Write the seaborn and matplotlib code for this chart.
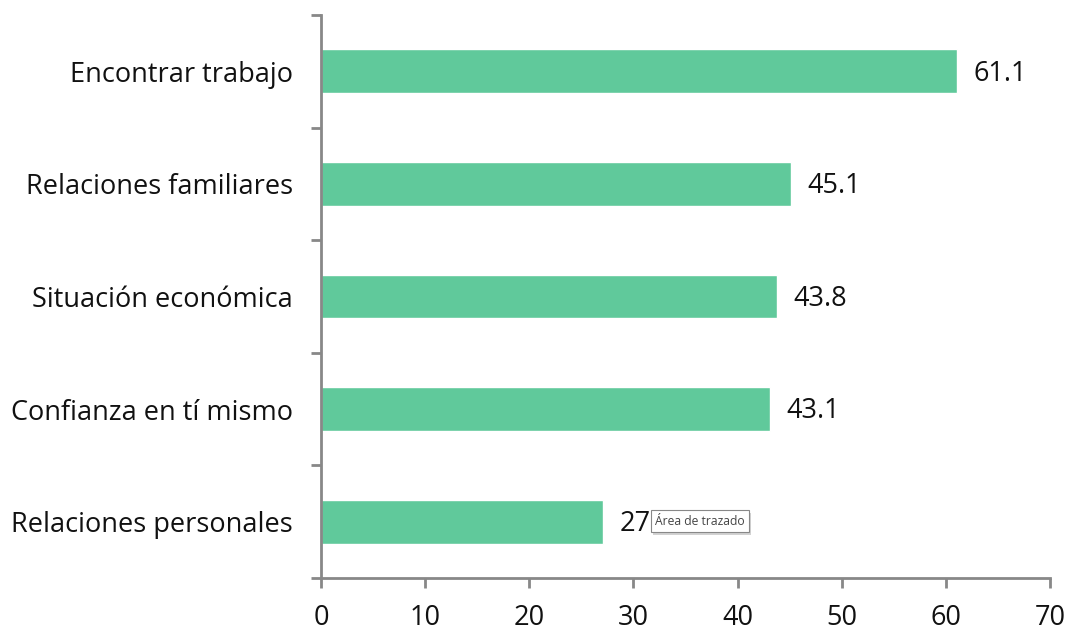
import matplotlib
matplotlib.use("Agg")
import matplotlib.pyplot as plt
import matplotlib.patheffects as pe
import seaborn as sns
import pandas as pd
import numpy as np

categories = ["Encontrar trabajo", "Relaciones familiares", "Situación económica",
              "Confianza en tí mismo", "Relaciones personales"]
values = [61.1, 45.1, 43.8, 43.1, 27.1]
xticks = [0, 10, 20, 30, 40, 50, 60, 70]

sns.set_theme(style="white")
plt.rcParams['font.family'] = ['Open Sans', 'DejaVu Sans']

FS = 19.5
df = pd.DataFrame({"cat": categories, "val": values})
fig = plt.figure(figsize=(10.69, 6.33), dpi=100)
ax = fig.add_axes([321/1069, 1-578/633, (1050-321)/1069, (578-15)/633])
sns.barplot(data=df, y="cat", x="val", color="#60C99B", saturation=1, width=0.39, ax=ax, orient="h")

ax.set_xlim(0, 70)
ax.set_ylim(4.5, -0.5)
ax.set_xticks(xticks)
ax.set_xticklabels([str(t) for t in xticks], fontsize=FS, color="#111111")
ax.set_xlabel("")
ax.set_ylabel("")
ax.tick_params(axis="y", which="major", length=0, labelsize=FS, labelcolor="#111111", pad=20)
ax.set_yticks(np.arange(-0.5, 5, 1), minor=True)
ax.tick_params(axis="y", which="minor", length=7, width=2, color="#888888", direction="out", left=True)
ax.tick_params(axis="x", which="major", length=7, width=2, color="#888888", direction="out", bottom=True, pad=12)
for s in ["top", "right"]:
    ax.spines[s].set_visible(False)
for s in ["left", "bottom"]:
    ax.spines[s].set_color("#888888")
    ax.spines[s].set_linewidth(2)

for i, v in enumerate(values):
    ax.text(v + 1.6, i + 0.02, f"{v}", va="center", ha="left", fontsize=FS, color="#111111")

tip = ax.text(32.05, 3.995, "Área de trazado", fontsize=8.7, color="#444444", va="center", ha="left",
              bbox=dict(boxstyle="square,pad=0.35", facecolor="white", edgecolor="#888888", linewidth=0.8),
              zorder=10)
tip.get_bbox_patch().set_path_effects([pe.SimplePatchShadow(offset=(2, -2), alpha=0.25), pe.Normal()])

fig.savefig("out.png", dpi=100)
